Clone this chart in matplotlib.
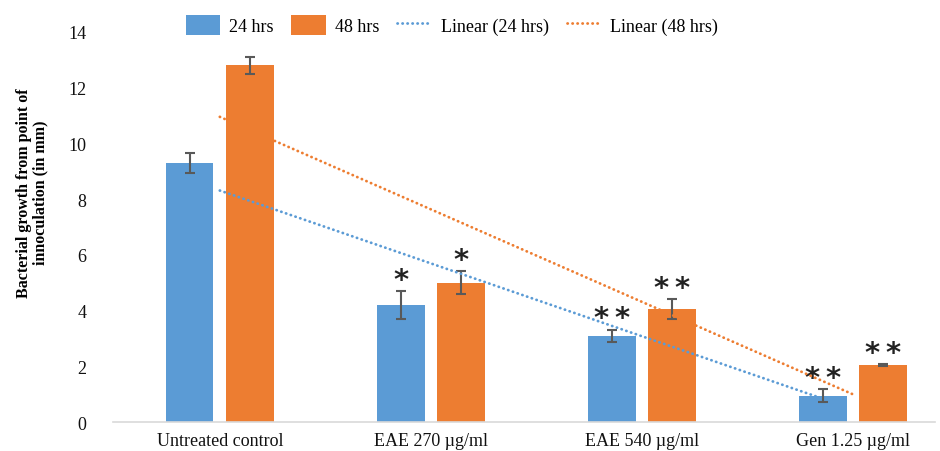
import matplotlib
matplotlib.use("Agg")
import matplotlib.pyplot as plt
import numpy as np

# data
categories = ["Untreated control", "EAE 270 µg/ml", "EAE 540 µg/ml", "Gen 1.25 µg/ml"]
growth_24 = [9.3, 4.2, 3.1, 0.95]
growth_48 = [12.8, 5.0, 4.05, 2.05]
err_24 = [0.35, 0.5, 0.22, 0.22]
err_48 = [0.32, 0.42, 0.35, 0.03]
sig_24 = ["", "*", "**", "**"]
sig_48 = ["", "*", "**", "**"]

blue = "#5B9BD5"
orange = "#ED7D31"

plt.rcParams['font.family'] = ['Liberation Serif', 'DejaVu Serif']

fig = plt.figure(figsize=(9.4, 4.52), dpi=100)
ax = fig.add_axes([0.120, 0.064, 0.875, 0.863])

x = np.arange(len(categories))
w = 0.226
off = 0.143

ax.bar(x - off, growth_24, w, color=blue, label="24 hrs", zorder=2)
ax.bar(x + off, growth_48, w, color=orange, label="48 hrs", zorder=2)
ax.errorbar(x - off, growth_24, yerr=err_24, fmt="none", ecolor="#595959",
            elinewidth=1.5, capsize=3.5, capthick=1.5, zorder=3)
ax.errorbar(x + off, growth_48, yerr=err_48, fmt="none", ecolor="#595959",
            elinewidth=1.5, capsize=3.5, capthick=1.5, zorder=3)

# linear trendlines like excel
xs = x + 1
for vals, col, lab, x_end in [(growth_24, blue, "Linear (24 hrs)", x[-1] - off),
                              (growth_48, orange, "Linear (48 hrs)", x[-1])]:
    k, b = np.polyfit(xs, vals, 1)
    tx = np.array([x[0], x_end])
    ax.plot(tx, k * (tx + 1) + b, color=col, lw=2.0, linestyle=(0, (0.1, 1.7)),
            dash_capstyle="round", label=lab, zorder=4)

# significance stars
for i in range(len(categories)):
    for xpos, v, e, s in [(x[i] - off, growth_24[i], err_24[i], sig_24[i]),
                          (x[i] + off, growth_48[i], err_48[i], sig_48[i])]:
        if s:
            ax.annotate("\u2009".join(s), (xpos, v + e), xytext=(0, -2), textcoords="offset points",
                        ha="center", va="bottom", fontsize=21, color="#222222",
                        family="DejaVu Sans", fontweight="bold")

ax.set_ylim(0, 14)
ax.set_xlim(-0.507, 3.39)
ax.set_yticks(range(0, 15, 2))
ax.set_xticks(x)
ax.set_xticklabels(categories)
ax.tick_params(axis="both", length=0, labelsize=13, colors="#111111")
ax.tick_params(axis="y", pad=19)
ax.tick_params(axis="x", pad=7)
for sp in ["top", "right", "left"]:
    ax.spines[sp].set_visible(False)
ax.spines["bottom"].set_color("#d9d9d9")
ax.spines["bottom"].set_linewidth(1.2)

fig.text(0.034, 0.573, "Bacterial growth from point of\ninnoculation (in mm)", rotation=90,
         ha="center", va="center", fontsize=11.5, fontweight="bold", linespacing=1.0)

h, l = ax.get_legend_handles_labels()
order = [2, 3, 0, 1]
ax.legend([h[i] for i in order], [l[i] for i in order], loc="upper center",
          bbox_to_anchor=(0.412, 1.085), ncol=4, frameon=False, fontsize=13,
          handlelength=1.9, handleheight=1.3, columnspacing=1.0, handletextpad=0.5)

fig.savefig("out.png", dpi=100)
